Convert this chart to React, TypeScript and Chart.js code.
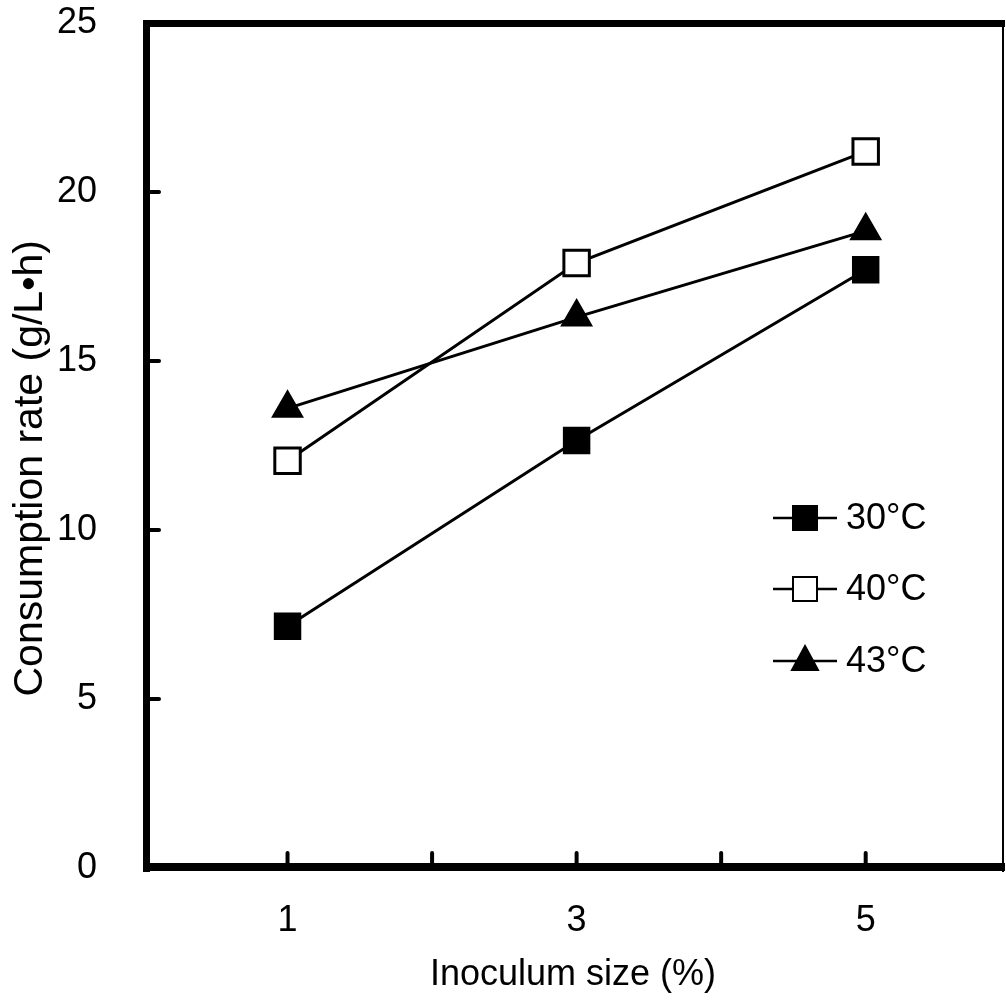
import React, { useEffect, useRef } from "react";
import { Chart, registerables } from "chart.js";

Chart.register(...registerables);

const inoculum = [1, 3, 5];
const series30 = [7.15, 12.65, 17.7];
const series40 = [12.05, 17.9, 21.2];
const series43 = [13.6, 16.3, 18.85];
const seriesNames = ["30°C", "40°C", "43°C"];
const xTickValues = [1, 2, 3, 4, 5];
const xLabelValues = [1, 3, 5];
const yTickValues = [0, 5, 10, 15, 20, 25];

const FONT = "'Liberation Sans', Arial, sans-serif";

const framePlugin = {
  id: "frame",
  afterDraw(chart: any) {
    const { ctx, chartArea } = chart;
    const { left, right, top, bottom } = chartArea;
    const xs = chart.scales.x;
    const ys = chart.scales.y;
    ctx.save();
    ctx.fillStyle = "#000";
    // frame
    ctx.fillRect(left, top - 3, 7, bottom - top + 7);
    ctx.fillRect(left, top - 3, right - left + 2, 7);
    ctx.fillRect(left, bottom - 5, right - left + 2, 8);
    ctx.fillRect(right - 1, top - 3, 2, bottom - top + 7);
    // ticks
    ctx.strokeStyle = "#000";
    ctx.lineWidth = 4;
    ctx.lineCap = "round";
    xTickValues.forEach((v) => {
      const px = xs.getPixelForValue(v);
      ctx.beginPath();
      ctx.moveTo(px, bottom - 4);
      ctx.lineTo(px, bottom - 15);
      ctx.stroke();
    });
    yTickValues.slice(1, -1).forEach((v) => {
      const py = ys.getPixelForValue(v);
      ctx.beginPath();
      ctx.moveTo(left + 5, py);
      ctx.lineTo(left + 16, py);
      ctx.stroke();
    });
    // legend
    const rows = [518, 589, 661];
    chart.data.datasets.forEach((ds: any, i: number) => {
      const y = rows[i];
      ctx.lineWidth = 2.5;
      ctx.lineCap = "butt";
      ctx.beginPath();
      ctx.moveTo(773, y);
      ctx.lineTo(837, y);
      ctx.stroke();
      const style = ds.pointStyle;
      ctx.fillStyle = ds.pointBackgroundColor;
      ctx.strokeStyle = "#000";
      ctx.lineWidth = 2;
      if (style === "rect") {
        ctx.beginPath();
        ctx.rect(805 - 12, y - 12, 24, 24);
        ctx.fill();
        ctx.stroke();
      } else {
        ctx.beginPath();
        ctx.moveTo(805, y - 15);
        ctx.lineTo(805 + 13, y + 9);
        ctx.lineTo(805 - 13, y + 9);
        ctx.closePath();
        ctx.fill();
        ctx.stroke();
      }
      ctx.fillStyle = "#000";
      ctx.font = `36px ${FONT}`;
      ctx.textBaseline = "middle";
      ctx.textAlign = "left";
      ctx.fillText(ds.label, 846, y + 1);
    });
    ctx.restore();
  },
};

export default function App() {
  const ref = useRef<HTMLCanvasElement | null>(null);
  useEffect(() => {
    if (!ref.current) return;
    const mk = (vals: number[]) => inoculum.map((x, i) => ({ x, y: vals[i] }));
    const chart = new Chart(ref.current, {
      type: "line",
      data: {
        datasets: [
          {
            label: seriesNames[0],
            data: mk(series30),
            borderColor: "#000",
            borderWidth: 3,
            pointStyle: "rect",
            pointRadius: 18,
            pointBackgroundColor: "#000",
            pointBorderColor: "#000",
            pointBorderWidth: 2,
          },
          {
            label: seriesNames[1],
            data: mk(series40),
            borderColor: "#000",
            borderWidth: 3,
            pointStyle: "rect",
            pointRadius: 18,
            pointBackgroundColor: "#fff",
            pointBorderColor: "#000",
            pointBorderWidth: 3,
          },
          {
            label: seriesNames[2],
            data: mk(series43),
            borderColor: "#000",
            borderWidth: 3,
            pointStyle: "triangle",
            pointRadius: 17,
            pointBackgroundColor: "#000",
            pointBorderColor: "#000",
            pointBorderWidth: 2,
          },
        ],
      },
      options: {
        responsive: false,
        animation: false,
        layout: { autoPadding: false, padding: { left: 0, right: 3, top: 23, bottom: 0 } },
        plugins: { legend: { display: false }, tooltip: { enabled: false } },
        scales: {
          x: {
            type: "linear",
            min: 0,
            max: 5.95,
            grid: { display: false },
            border: { display: false },
            afterBuildTicks: (s: any) => {
              s.ticks = xLabelValues.map((v) => ({ value: v }));
            },
            afterFit: (s: any) => {
              s.height = 139;
              s.paddingLeft = 0;
              s.paddingRight = 0;
              s.paddingTop = 0;
              s.paddingBottom = 0;
            },
            ticks: {
              color: "#000",
              padding: 23,
              maxRotation: 0,
              autoSkip: false,
              font: { family: FONT, size: 36 },
            },
            title: {
              display: true,
              text: "Inoculum size (%)",
              color: "#000",
              font: { family: FONT, size: 36 },
              padding: { top: 0, bottom: 10 },
            },
          },
          y: {
            type: "linear",
            min: 0,
            max: 25,
            grid: { display: false },
            border: { display: false },
            afterBuildTicks: (s: any) => {
              s.ticks = yTickValues.map((v) => ({ value: v }));
            },
            afterFit: (s: any) => {
              s.width = 143;
              s.paddingLeft = 0;
              s.paddingRight = 0;
              s.paddingTop = 0;
              s.paddingBottom = 0;
            },
            ticks: {
              color: "#000",
              padding: 38,
              autoSkip: false,
              font: { family: FONT, size: 36 },
            },
            title: {
              display: true,
              text: "Consumption rate (g/L•h)    ",
              color: "#000",
              font: { family: FONT, size: 41 },
              padding: { top: 6, bottom: 0 },
            },
          },
        },
      },
      plugins: [framePlugin],
    });
    return () => chart.destroy();
  }, []);
  return (
    <div style={{ position: "absolute", left: 0, top: 0, width: 1006, height: 1007, background: "#fff" }}>
      <canvas ref={ref} width={1006} height={1007} style={{ width: 1006, height: 1007, display: "block" }} />
    </div>
  );
}
